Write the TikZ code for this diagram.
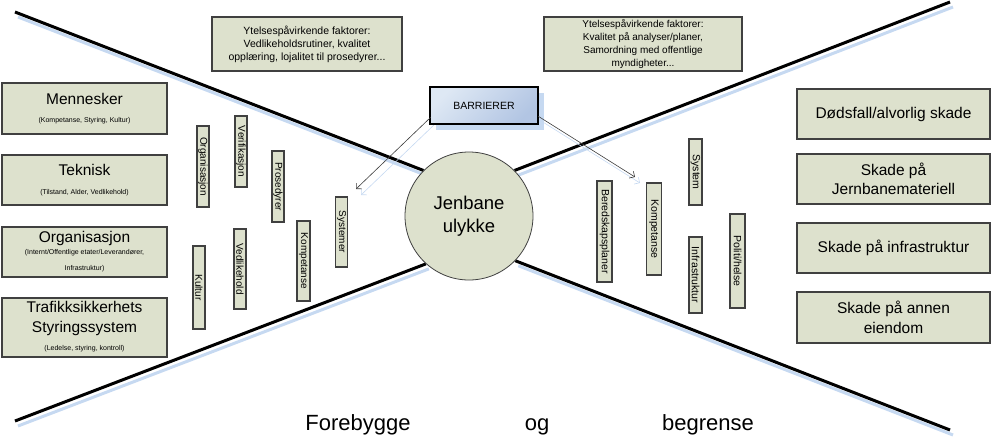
\documentclass[tikz,border=0pt]{standalone}
\usepackage{fontspec}
\setmainfont{Liberation Sans}
\usetikzlibrary{arrows.meta,calc,backgrounds}
\definecolor{boxfill}{RGB}{221,225,205}
\definecolor{boxline}{RGB}{64,64,64}
\definecolor{shadowblue}{RGB}{198,217,241}
\definecolor{barlight}{RGB}{222,232,244}
\definecolor{bardark}{RGB}{178,197,227}
\definecolor{arrowgrey}{RGB}{60,60,60}
\newcommand\fsz[2]{\fontsize{#1}{#2}\selectfont}
\begin{document}
\begin{tikzpicture}[x=1pt,y=-1pt,
  fbox/.style={draw=boxline,fill=boxfill,line width=1.1pt,inner sep=0pt},
  vbox/.style={fbox,rotate=-90,font=\fsz{10}{12}},
  vboxr/.style={fbox,rotate=-90,font=\fsz{10.5}{12}},
  lbox/.style={fbox,minimum width=165pt},
  rbox/.style={fbox,minimum width=193pt,align=center,font=\fsz{15.5}{19.5}},
  ltitle/.style={anchor=base,inner sep=0pt,font=\fsz{15.5}{18}},
  lsub/.style={anchor=base,inner sep=0pt,font=\fsz{7}{8}},
  xline/.style={line width=3pt,black},
  xshadow/.style={line width=3pt,shadowblue},
  arr/.style={line width=0.6pt,arrowgrey,-{Straight Barb[length=4pt,width=8pt]}},
  arrshadow/.style={line width=0.6pt,shadowblue,-{Straight Barb[length=4pt,width=8pt]}},
  bottomtext/.style={anchor=base,inner sep=0pt,font=\fsz{22}{26}}
]
\useasboundingbox (0,0) rectangle (991,440);

% central circle
\node[circle,draw=boxline,line width=0.8pt,fill=boxfill,minimum size=128pt,inner sep=0pt,
      align=center,font=\fsz{18.5}{22.6}] (acc) at (469,216) {Jenbane\\ulykke};

% end points of the big X
\coordinate (tl) at (15,12);
\coordinate (tr) at (950,2);
\coordinate (bl) at (15,421);
\coordinate (br) at (950,430);

\begin{scope}[on background layer]
  \draw[xshadow] ([shift={(3,5)}]tl) -- ([shift={(3,5)}]acc.135);
  \draw[xshadow] ([shift={(3,5)}]tr) -- ([shift={(3,5)}]acc.45);
  \draw[xshadow] ([shift={(3,5)}]bl) -- ([shift={(3,5)}]acc.228);
  \draw[xshadow] ([shift={(3,5)}]br) -- ([shift={(3,5)}]acc.316);
  \draw[xline] (tl) -- (acc.135);
  \draw[xline] (tr) -- (acc.45);
  \draw[xline] (bl) -- (acc.228);
  \draw[xline] (br) -- (acc.316);
\end{scope}

% top boxes
\node[fbox,minimum width=190pt,minimum height=54pt,align=center,font=\fsz{10.5}{13}] (ytl) at (307,44)
  {Ytelsespåvirkende faktorer:\\Vedlikeholdsrutiner, kvalitet\\opplæring, lojalitet til prosedyrer...};
\node[fbox,minimum width=198pt,minimum height=54pt,align=center,font=\fsz{10}{12.7}] (ytr) at (643,44)
  {Ytelsespåvirkende faktorer:\\Kvalitet på analyser/planer,\\Samordning med offentlige\\myndigheter...};

% barrier box
\node[fill=shadowblue,minimum width=108pt,minimum height=37pt,inner sep=0pt] (barshadow) at (490,111.5) {};
\node[draw=black,line width=2.5pt,top color=barlight,bottom color=bardark,shading angle=45,
      minimum width=108pt,minimum height=37pt,inner sep=0pt,font=\fsz{10.5}{12}] (bar) at (484,105.5) {BARRIERER};

% arrows from barrier
\coordinate (lt) at (356,189);
\coordinate (rt) at (635,177);
\begin{scope}[on background layer]
  \draw[arrshadow] ([shift={(7,-2)}]bar.south west) -- ([shift={(5,6)}]lt);
  \draw[arrshadow] ([shift={(4,-3)}]bar.south east) -- ([shift={(5,6)}]rt);
\end{scope}
\draw[arr] ([shift={(2,-8)}]bar.south west) -- (lt);
\draw[arr] ([shift={(-1,-9)}]bar.south east) -- (rt);

% left boxes
\node[lbox,minimum height=51pt] (men) at (84.5,108.5) {};
\node[ltitle] (mentitle) at (84.5,104.3) {Mennesker};
\node[lsub] (mensub) at (84.5,122) {(Kompetanse, Styring, Kultur)};

\node[lbox,minimum height=50pt] (tek) at (84.5,180) {};
\node[ltitle] (tektitle) at (84.5,175) {Teknisk};
\node[lsub] (teksub) at (84.5,194.5) {(Tilstand, Alder, Vedlikehold)};

\node[lbox,minimum height=50pt] (org) at (84.5,252) {};
\node[ltitle] (orgtitle) at (84.5,242) {Organisasjon};
\node[lsub] (orgsub) at (84.5,254.5) {(Internt/Offentlige etater/Leverandører,};
\node[lsub] (orgsubb) at (84.5,270.5) {Infrastruktur)};

\node[lbox,minimum height=59pt] (tss) at (84.5,327.5) {};
\node[ltitle] (tsstitle) at (84.5,312.7) {Trafikksikkerhets};
\node[ltitle] (tsstitleb) at (84.5,332.5) {Styringssystem};
\node[lsub] (tsssub) at (84.5,350) {(Ledelse, styring, kontroll)};

% right boxes
\node[rbox,minimum height=50pt] (r1) at (893.5,114) {Dødsfall/alvorlig skade};
\node[rbox,minimum height=50pt] (r2) at (893.5,179) {Skade på\\Jernbanemateriell};
\node[rbox,minimum height=50pt] (r3) at (893.5,248) {Skade på infrastruktur};
\node[rbox,minimum height=51pt] (r4) at (893.5,317.5) {Skade på annen\\eiendom};

% left vertical barriers
\node[vbox,minimum width=81pt,minimum height=12pt] (vorg) at (203,166.5) {Organisasjon};
\node[vbox,minimum width=71pt,minimum height=12pt] (vver) at (241,151.5) {Verifikasjon};
\node[vbox,minimum width=71pt,minimum height=12pt] (vpro) at (278,186.5) {Prosedyrer};
\node[vbox,minimum width=70pt,minimum height=12pt] (vsys) at (341.5,232) {Systemer};
\node[vbox,minimum width=80pt,minimum height=13pt] (vkom) at (303.5,261) {Kompetanse};
\node[vbox,minimum width=80pt,minimum height=12pt] (vved) at (240,269) {Vedlikehold};
\node[vbox,minimum width=83pt,minimum height=12pt] (vkul) at (199,287.5) {Kultur};

% right vertical barriers
\node[vboxr,minimum width=101pt,minimum height=15pt] (hber) at (604.5,231.5) {Beredskapsplaner};
\node[vboxr,minimum width=92pt,minimum height=15pt] (hkom) at (654,229) {Kompetanse};
\node[vboxr,minimum width=66pt,minimum height=13pt] (hsys) at (695.5,172) {System};
\node[vboxr,minimum width=76pt,minimum height=13pt] (hinf) at (695.5,275) {Infrastruktur};
\node[vboxr,minimum width=94pt,minimum height=15pt] (hpol) at (737.5,261) {Politi/helse};

% bottom text
\node[bottomtext] (fore) at (358,430) {Forebygge};
\node[bottomtext] (og) at (537,430) {og};
\node[bottomtext] (begr) at (708,430) {begrense};
\end{tikzpicture}
\end{document}
